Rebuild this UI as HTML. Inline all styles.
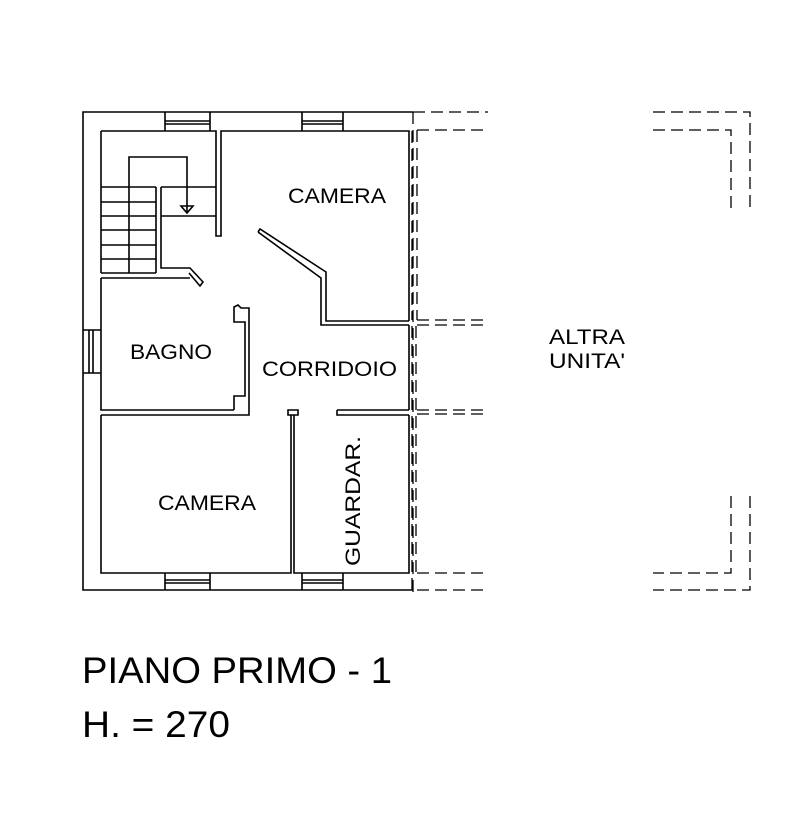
<!DOCTYPE html>
<html><head><meta charset="utf-8"><style>
html,body{margin:0;padding:0;background:#fff;}
svg{display:block;}
text{font-family:"Liberation Sans",Arial,sans-serif;fill:#000;}
</style></head><body>
<svg width="790" height="836" viewBox="0 0 790 836" xmlns="http://www.w3.org/2000/svg">
<g fill="none" stroke="#000" stroke-width="1.6">
<!-- outer wall -->
<path d="M413,112 H83 V590 H413"/>
<!-- windows top -->
<path d="M165,112 V131 M210,112 V131 M165,121 H210 M165,124 H210"/>
<path d="M302,112 V131 M343,112 V131 M302,121 H343 M302,124 H343"/>
<!-- windows bottom -->
<path d="M165,573 V590 M210,573 V590 M165,580 H210 M165,583 H210"/>
<path d="M302,573 V590 M343,573 V590 M302,580 H343 M302,583 H343"/>
<!-- left window -->
<path d="M83,330 H101 M83,373 H101 M89,330 V373 M93,330 V373"/>
<!-- stair room inner -->
<path d="M101,131 H216 V236 H221 V131 H409 V321"/>
<path d="M101,131 V273"/>
<!-- stairs -->
<path d="M129,273 V157 H187 V213"/>
<path d="M101,187 H156 M101,202 H156 M101,216 H156 M101,230 H156 M101,245 H156 M101,259 H156 M101,273 H156"/>
<path d="M161,187 H216 M161,216 H216"/>
<path d="M156,187 V273 M161,187 V268 H190 L203,282 L200,286 L189,273"/>
<path d="M181,206 H193 L187,213 Z"/>
<!-- camera top right -->
<path d="M258,232 L260,229 L326,272 V321 H409 M258,232 L321,278 V325 H409"/>
<!-- bagno -->
<path d="M101,278 H190 M101,278 V410 H234"/>
<path d="M234,410 V396 H245 V322 H234 V307 L238,305 L241,308 H249 V415 H101"/>
<!-- right inner wall -->
<path d="M409,325 V410 M409,415 V573 H294 V415 M291,415 V573 H101 V415"/>
<path d="M337,410 H409 M337,410 V415 H409"/>
<path d="M288,410 H298 V415 H288 Z"/>
</g>
<!-- dashed / dash-dot lines -->
<g fill="none" stroke="#000" stroke-width="1.3" stroke-dasharray="12,6">
<path d="M413,112 V595"/>
<path d="M413,112 H488"/>
<path d="M417,130 V320 M417,130 H488"/>
<path d="M412,131 V320"/>
<path d="M412,326 V410 M416,326 V410 M412,416 V590 M416,416 V573"/>
<path d="M417,320 H485 M417,325 H485"/>
<path d="M417,410 H485 M417,414 H485"/>
<path d="M417,573 H485 M417,590 H485"/>
<path d="M653,112 H750 V210 M653,130 H731 V210"/>
<path d="M750,496 V590 H653 M731,496 V573 H653"/>
</g>
<g fill="#000">
<text x="288" y="203" font-size="21" textLength="98" lengthAdjust="spacingAndGlyphs">CAMERA</text>
<text x="130" y="359" font-size="21" textLength="82" lengthAdjust="spacingAndGlyphs">BAGNO</text>
<text x="262" y="376" font-size="21" textLength="135" lengthAdjust="spacingAndGlyphs">CORRIDOIO</text>
<text x="158" y="510" font-size="21" textLength="98" lengthAdjust="spacingAndGlyphs">CAMERA</text>
<text transform="translate(360,566) rotate(-90)" font-size="21" textLength="130" lengthAdjust="spacingAndGlyphs">GUARDAR.</text>
<text x="549" y="344" font-size="21" textLength="76" lengthAdjust="spacingAndGlyphs">ALTRA</text>
<text x="549" y="368" font-size="21" textLength="76" lengthAdjust="spacingAndGlyphs">UNITA'</text>
<text x="82" y="683" font-size="37" textLength="310" lengthAdjust="spacingAndGlyphs">PIANO PRIMO - 1</text>
<text x="82" y="737" font-size="37" textLength="148" lengthAdjust="spacingAndGlyphs">H. = 270</text>
</g>
</svg>
</body></html>
